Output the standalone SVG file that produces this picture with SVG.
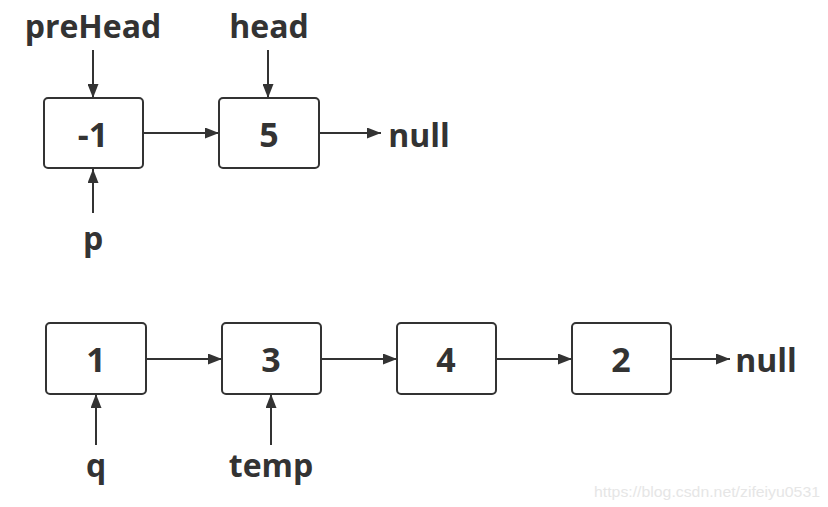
<svg xmlns="http://www.w3.org/2000/svg" width="828" height="507" viewBox="0 0 828 507">
<defs>
<marker id="ah" markerWidth="14" markerHeight="11" refX="14" refY="5.5" orient="auto" markerUnits="userSpaceOnUse">
<path d="M0,0 L14,5.5 L0,11 Z" fill="#333"/>
</marker>
<style>
.box{fill:#fff;stroke:#333;stroke-width:2}
.lbl{font-family:"Open Sans","Noto Sans",sans-serif;font-weight:bold;font-size:32px;fill:#333;text-anchor:middle}
.num{font-family:"Open Sans","Noto Sans",sans-serif;font-weight:bold;font-size:34px;fill:#333;text-anchor:middle}
.ln{stroke:#333;stroke-width:2;fill:none;marker-end:url(#ah)}
.wm{font-family:"Liberation Sans",Arial,sans-serif;font-size:15px;fill:#e6e6e6}
</style>
</defs>
<rect width="828" height="507" fill="#fff"/>
<g id="connectors">
<line class="ln" x1="93" y1="50" x2="93" y2="98"/>
<line class="ln" x1="268" y1="50" x2="268" y2="98"/>
<line class="ln" x1="93" y1="213" x2="93" y2="169"/>
<line class="ln" x1="143" y1="133" x2="219" y2="133"/>
<line class="ln" x1="319" y1="133" x2="381" y2="133"/>
<line class="ln" x1="146" y1="359" x2="222" y2="359"/>
<line class="ln" x1="321" y1="359" x2="397" y2="359"/>
<line class="ln" x1="496" y1="359" x2="572" y2="359"/>
<line class="ln" x1="671" y1="359" x2="730" y2="359"/>
<line class="ln" x1="96" y1="445" x2="96" y2="394"/>
<line class="ln" x1="271" y1="445" x2="271" y2="394"/>
</g>
<g id="node-m1"><rect class="box" x="44" y="98" width="99" height="70" rx="4"/><text class="num" x="93" y="147">-1</text></g>
<g id="node-5"><rect class="box" x="219" y="98" width="100" height="70" rx="4"/><text class="num" x="269" y="147">5</text></g>
<g id="node-1"><rect class="box" x="46" y="323" width="100" height="71" rx="4"/><text class="num" x="96" y="372">1</text></g>
<g id="node-3"><rect class="box" x="222" y="323" width="99" height="71" rx="4"/><text class="num" x="271" y="372">3</text></g>
<g id="node-4"><rect class="box" x="397" y="323" width="99" height="71" rx="4"/><text class="num" x="446" y="372">4</text></g>
<g id="node-2"><rect class="box" x="572" y="323" width="99" height="71" rx="4"/><text class="num" x="621" y="372">2</text></g>
<g id="labels">
<text class="lbl" x="93" y="38">preHead</text>
<text class="lbl" x="269" y="38">head</text>
<text class="lbl" x="419" y="147">null</text>
<text class="lbl" x="93" y="250">p</text>
<text class="lbl" x="766" y="372">null</text>
<text class="lbl" x="96" y="477">q</text>
<text class="lbl" x="271" y="477">temp</text>
</g>
<text class="wm" x="594" y="497" textLength="226" lengthAdjust="spacingAndGlyphs">https://blog.csdn.net/zifeiyu0531</text>
</svg>
